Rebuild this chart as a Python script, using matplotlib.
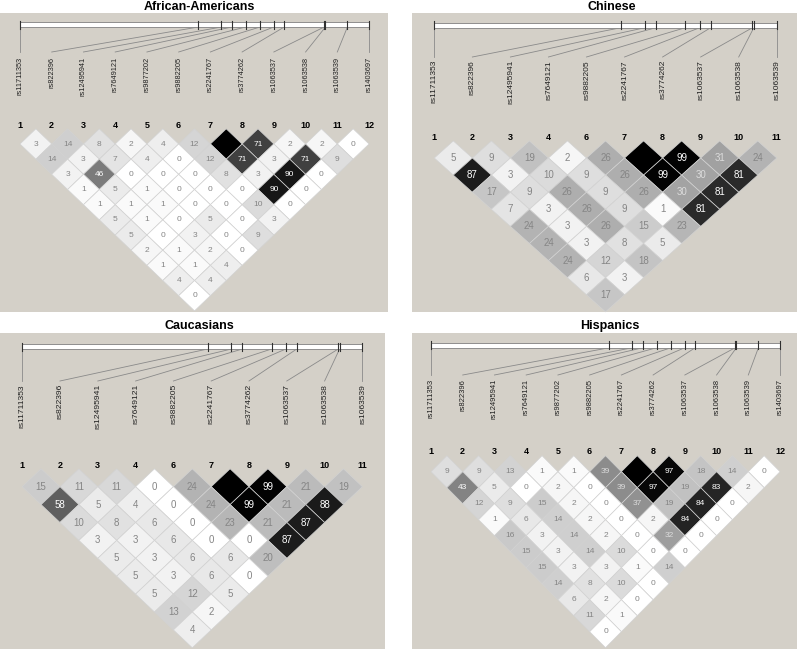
import matplotlib
matplotlib.use("Agg")
import matplotlib.pyplot as plt
from matplotlib.patches import Rectangle, Polygon

plt.rcParams['font.family'] = ['Liberation Sans', 'DejaVu Sans']

# SNP names and relative map positions
snp_names = ['rs11711353', 'rs822396', 'rs12495941', 'rs7649121', 'rs9877202', 'rs9882205',
             'rs2241767', 'rs3774262', 'rs1063537', 'rs1063538', 'rs1063539', 'rs1403697']
map_pos = [0, 0.545, 0.615, 0.647, 0.689, 0.733, 0.775, 0.807, 0.929, 0.933, 1.0, 1.066]

# r2 (x100) per diagonal: first list = adjacent pairs, then pairs 2 apart, ...
aa_snps = [1, 2, 3, 4, 5, 6, 7, 8, 9, 10, 11, 12]
aa_r2 = [[3, 14, 8, 2, 4, 12, 100, 71, 2, 2, 0],
         [14, 3, 7, 4, 0, 12, 71, 3, 71, 9],
         [3, 46, 0, 0, 0, 8, 3, 90, 0],
         [1, 5, 1, 0, 0, 0, 90, 0],
         [1, 1, 1, 0, 0, 10, 0],
         [5, 1, 0, 5, 0, 3],
         [5, 0, 3, 0, 9],
         [2, 1, 2, 0],
         [1, 1, 4],
         [4, 4],
         [0]]

cn_snps = [1, 2, 3, 4, 6, 7, 8, 9, 10, 11]
cn_r2 = [[5, 9, 19, 2, 26, 100, 99, 31, 24],
         [87, 3, 10, 9, 26, 99, 30, 81],
         [17, 9, 26, 9, 26, 30, 81],
         [7, 3, 26, 9, 1, 81],
         [24, 3, 26, 15, 23],
         [24, 3, 8, 5],
         [24, 12, 18],
         [6, 3],
         [17]]

ca_snps = [1, 2, 3, 4, 6, 7, 8, 9, 10, 11]
ca_r2 = [[15, 11, 11, 0, 24, 100, 99, 21, 19],
         [58, 5, 4, 0, 24, 99, 21, 88],
         [10, 8, 6, 0, 23, 21, 87],
         [3, 3, 6, 0, 0, 87],
         [5, 3, 6, 6, 20],
         [5, 3, 6, 0],
         [5, 12, 5],
         [13, 2],
         [4]]

hi_snps = [1, 2, 3, 4, 5, 6, 7, 8, 9, 10, 11, 12]
hi_r2 = [[9, 9, 13, 1, 1, 39, 100, 97, 18, 14, 0],
         [43, 5, 0, 2, 0, 39, 97, 19, 83, 2],
         [12, 9, 15, 2, 0, 37, 19, 84, 0],
         [1, 6, 14, 2, 0, 2, 84, 0],
         [16, 3, 14, 2, 0, 32, 0],
         [15, 3, 14, 10, 0, 0],
         [15, 3, 3, 1, 14],
         [14, 8, 10, 0],
         [6, 2, 0],
         [11, 1],
         [0]]

# panel layout in pixels
panels = [
    dict(title='African-Americans', snps=aa_snps, r2=aa_r2, box=(0, 13, 388, 312), tx=199, ty=7,
         bar=(22, 27), x0=20, step=31.73, line_end=52, lab_top=57, lab_fs=5.3,
         num_y=125, top_y=144, row_h=15.17, cell_fs=6.0),
    dict(title='Chinese', snps=cn_snps, r2=cn_r2, box=(412, 13, 797, 312), tx=612, ty=7,
         bar=(22.7, 27.7), x0=434.3, step=38.05, line_end=57, lab_top=60, lab_fs=6.0,
         num_y=138, top_y=158, row_h=17.1, cell_fs=7.0),
    dict(title='Caucasians', snps=ca_snps, r2=ca_r2, box=(0, 333, 385, 649), tx=199, ty=326,
         bar=(344, 349), x0=22.2, step=37.8, line_end=381, lab_top=384, lab_fs=6.1,
         num_y=465, top_y=486.7, row_h=17.9, cell_fs=7.0),
    dict(title='Hispanics', snps=hi_snps, r2=hi_r2, box=(412, 333, 797, 649), tx=610, ty=326,
         bar=(342.7, 347.7), x0=431, step=31.73, line_end=375, lab_top=379, lab_fs=5.5,
         num_y=452, top_y=471.7, row_h=16.0, cell_fs=6.0),
]

fig = plt.figure(figsize=(8, 6.49), dpi=100)
ax = fig.add_axes([0, 0, 1, 1])
ax.set_xlim(0, 800)
ax.set_ylim(649, 0)
ax.axis('off')

for p in panels:
    x1, y1, x2, y2 = p['box']
    ax.add_patch(Rectangle((x1, y1), x2 - x1, y2 - y1, facecolor='#d4d0c8', edgecolor='none', zorder=0))
    ax.text(p['tx'], p['ty'], p['title'], ha='center', va='center', fontsize=9, fontweight='bold')

    snps = p['snps']
    n = len(snps)
    step = p['step']
    xs = [p['x0'] + k * step for k in range(n)]
    # map bar
    pos = [map_pos[s - 1] for s in snps]
    span = (n - 1) * step
    tick_x = [p['x0'] + (q - pos[0]) / (pos[-1] - pos[0]) * span for q in pos]
    b0, b1 = p['bar']
    ax.add_patch(Rectangle((xs[0], b0), span, b1 - b0, facecolor='white', edgecolor='#808080', lw=0.6, zorder=2))
    for k in range(n):
        ax.plot([tick_x[k], tick_x[k]], [b0 - 1.5, b1 + 1.5], color='#303030', lw=0.8, zorder=3)
        ax.plot([tick_x[k], xs[k]], [b1, p['line_end']], color='#8a8a8a', lw=0.6, zorder=1)
        ax.text(xs[k], p['lab_top'], snp_names[snps[k] - 1], rotation=90, ha='center', va='top',
                fontsize=p['lab_fs'], color='#202020')
        ax.text(xs[k], p['num_y'], str(snps[k]), ha='center', va='center', fontsize=6.5,
                fontweight='bold', color='black')

    # LD diamonds, shaded by r2
    hw = step / 2
    hh = p['row_h']
    for d, row in enumerate(p['r2'], start=1):
        for a, v in enumerate(row):
            b = a + d
            cx = (xs[a] + xs[b]) / 2
            cy = p['top_y'] + (d - 1) * hh
            g = 1 - (v / 100) ** 0.85
            ax.add_patch(Polygon([(cx - hw, cy), (cx, cy - hh), (cx + hw, cy), (cx, cy + hh)],
                                 closed=True, facecolor=(g, g, g), edgecolor='#d2d2d2', lw=0.5, zorder=2))
            if v < 100:
                if v >= 40:
                    tc = 'white'
                elif v >= 30:
                    tc = '#dcdcdc'
                else:
                    tc = '#858585'
                ax.text(cx, cy, str(v), ha='center', va='center', fontsize=p['cell_fs'], color=tc, zorder=3)

fig.savefig('out.png', dpi=100)
